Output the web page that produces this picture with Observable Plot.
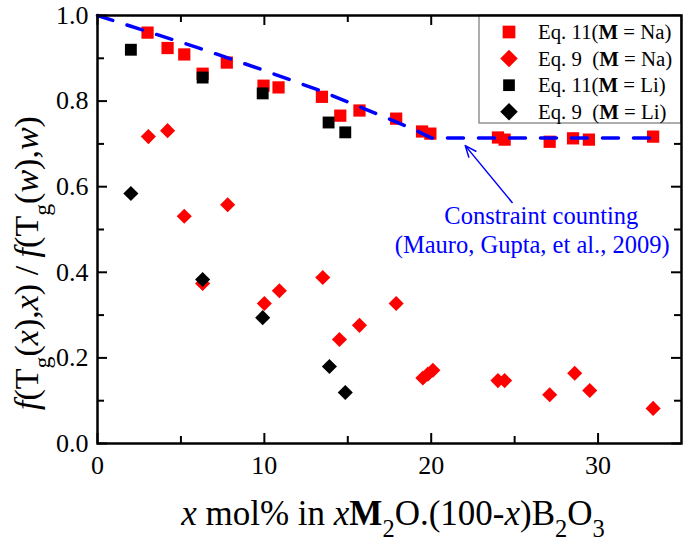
<!DOCTYPE html>
<html>
<head>
<meta charset="utf-8">
<script src="https://cdn.jsdelivr.net/npm/d3@7"></script>
<script src="https://cdn.jsdelivr.net/npm/@observablehq/plot@0.6"></script>
<style>
  html, body { margin: 0; padding: 0; background: white; }
  #chart svg { display: block; }
  #chart svg, #chart svg text { font-family: "Liberation Serif", "Times New Roman", serif; }
</style>
</head>
<body>
<div id="chart"></div>
<script>
// ---- Data ----
// Eq. 11 (M = Na) red squares
const na11X = [3.0, 4.2, 5.2, 6.3, 7.75, 9.95, 10.85, 13.45, 14.55, 15.7, 17.9, 19.45, 19.95, 24.0, 24.4, 27.1, 28.5, 29.45, 33.3];
const na11Y = [0.960, 0.924, 0.909, 0.864, 0.890, 0.836, 0.832, 0.810, 0.766, 0.778, 0.759, 0.729, 0.724, 0.715, 0.710, 0.705, 0.713, 0.710, 0.717];
// Eq. 9 (M = Na) red diamonds
const na9X = [3.05, 4.2, 5.2, 6.3, 7.8, 10.0, 10.9, 13.5, 14.5, 15.7, 17.9, 19.5, 19.8, 20.1, 24.0, 24.4, 27.1, 28.6, 29.5, 33.3];
const na9Y = [0.717, 0.731, 0.531, 0.374, 0.558, 0.327, 0.357, 0.388, 0.243, 0.276, 0.327, 0.153, 0.162, 0.171, 0.147, 0.147, 0.114, 0.164, 0.124, 0.082];
// Eq. 11 (M = Li) black squares
const li11X = [2.0, 6.3, 9.9, 13.85, 14.85];
const li11Y = [0.920, 0.855, 0.818, 0.750, 0.727];
// Eq. 9 (M = Li) black diamonds
const li9X = [2.0, 6.3, 9.9, 13.9, 14.85];
const li9Y = [0.584, 0.383, 0.294, 0.180, 0.119];
// Constraint counting (Mauro, Gupta, et al., 2009), dashed blue
const ccX = [0, 6.0, 9.6, 13.3, 17.0, 18.9, 20.0, 33.6];
const ccY = [1.0, 0.925, 0.877, 0.825, 0.766, 0.735, 0.714, 0.714];
// Annotation arrow (tail -> tip)
const arrowTail = [24.85, 0.563];
const arrowTip = [22.04, 0.696];
const annotLines = ["Constraint counting", "(Mauro, Gupta, et al., 2009)"];
const annotX = [26.6, 26.05];
const annotY = [0.514, 0.446];
// Ticks
const xMajor = [0, 10, 20, 30];
const xMinor = [5, 15, 25];
const yMajor = [0, 0.2, 0.4, 0.6, 0.8, 1.0];
const yMinor = [0.1, 0.3, 0.5, 0.7, 0.9];
const legendLabels = [
  ["Eq. 11(", "M", " = Na)"],
  ["Eq. 9  (", "M", " = Na)"],
  ["Eq. 11(", "M", " = Li)"],
  ["Eq. 9  (", "M", " = Li)"]
];

// ---- Build tables ----
const zip = (xs, ys) => xs.map((x, i) => ({x, y: ys[i]}));
const na11 = zip(na11X, na11Y);
const na9 = zip(na9X, na9Y);
const li11 = zip(li11X, li11Y);
const li9 = zip(li9X, li9Y);
const cc = zip(ccX, ccY);
const annot = annotLines.map((t, i) => ({t, x: annotX[i], y: annotY[i]}));

const W = 686, H = 543;
const mL = 97, mR = 5, mT = 15, mB = 100;
const innerW = W - mL - mR, innerH = H - mT - mB;
const RED = "#ff0000", BLUE = "#0000ff";
const FONT = "Liberation Serif";
const MAJ = 10, MIN = 7;

const plot = Plot.plot({
  width: W, height: H,
  marginLeft: mL, marginRight: mR, marginTop: mT, marginBottom: mB,
  style: {fontFamily: FONT, fontSize: "26px", color: "black", background: "white"},
  x: {domain: [0, 35], axis: null},
  y: {domain: [0, 1], axis: null},
  marks: [
    // tick labels (through the scales)
    Plot.text(xMajor, {x: d => d, y: 0, text: d3.format("d"), lineAnchor: "top", dy: 12,
      fontFamily: FONT, fontSize: 26, fill: "black", textAnchor: "middle"}),
    Plot.text(yMajor, {x: 0, y: d => d, text: d3.format(".1f"), textAnchor: "end", dx: -9,
      fontFamily: FONT, fontSize: 26, fill: "black", lineAnchor: "middle"}),
    // inward ticks: bottom/top
    Plot.tickX(xMajor, {x: d => d, stroke: "black", strokeWidth: 2, insetTop: innerH - MAJ}),
    Plot.tickX(xMinor, {x: d => d, stroke: "black", strokeWidth: 2, insetTop: innerH - MIN}),
    Plot.tickX(xMajor, {x: d => d, stroke: "black", strokeWidth: 2, insetBottom: innerH - MAJ}),
    Plot.tickX(xMinor, {x: d => d, stroke: "black", strokeWidth: 2, insetBottom: innerH - MIN}),
    // inward ticks: left/right
    Plot.tickY(yMajor, {y: d => d, stroke: "black", strokeWidth: 2, insetRight: innerW - MAJ}),
    Plot.tickY(yMinor, {y: d => d, stroke: "black", strokeWidth: 2, insetRight: innerW - MIN}),
    Plot.tickY(yMajor, {y: d => d, stroke: "black", strokeWidth: 2, insetLeft: innerW - MAJ}),
    Plot.tickY(yMinor, {y: d => d, stroke: "black", strokeWidth: 2, insetLeft: innerW - MIN}),
    // data
    Plot.dot(na11, {x: "x", y: "y", symbol: "square", r: 6.9, fill: RED}),
    Plot.dot(na9, {x: "x", y: "y", symbol: "diamond2", r: 6.8, fill: RED}),
    Plot.dot(li11, {x: "x", y: "y", symbol: "square", r: 6.7, fill: "black"}),
    Plot.dot(li9, {x: "x", y: "y", symbol: "diamond2", r: 6.8, fill: "black"}),
    Plot.line(cc, {x: "x", y: "y", stroke: BLUE, strokeWidth: 3.5, strokeDasharray: "16,15"}),
    Plot.arrow([{}], {x1: arrowTail[0], y1: arrowTail[1], x2: arrowTip[0], y2: arrowTip[1],
      stroke: BLUE, strokeWidth: 1.5, headLength: 12, headAngle: 45}),
    Plot.text(annot, {x: "x", y: "y", text: "t", fill: BLUE, fontSize: 24.5, fontFamily: FONT, textAnchor: "middle", lineAnchor: "bottom"}),
    Plot.frame({stroke: "black", strokeWidth: 2.5})
  ]
});

document.getElementById("chart").appendChild(plot);
const svg = d3.select(plot).attr("font-family", FONT);

// ---- Legend ----
const lg = svg.append("g").attr("class", "legend");
lg.append("rect").attr("x", 479).attr("y", 15).attr("width", 202).attr("height", 108)
  .attr("fill", "white").attr("stroke", "#777").attr("stroke-width", 1.2);
const legendSym = [
  {sym: d3.symbolSquare, size: 12.7 * 12.7, fill: RED},
  {sym: d3.symbolDiamond2, size: 14 * 14, fill: RED},
  {sym: d3.symbolSquare, size: 11.7 * 11.7, fill: "black"},
  {sym: d3.symbolDiamond2, size: 14 * 14, fill: "black"}
];
legendLabels.forEach((parts, i) => {
  const cy = 32 + i * 26.6;
  lg.append("path").attr("transform", `translate(509,${cy})`)
    .attr("d", d3.symbol(legendSym[i].sym, legendSym[i].size)()).attr("fill", legendSym[i].fill);
  const t = lg.append("text").attr("x", 538).attr("y", cy + 7).attr("text-anchor", "start")
    .attr("font-family", FONT).attr("font-size", 20.8).attr("fill", "black")
    .style("white-space", "pre");
  t.append("tspan").text(parts[0]);
  t.append("tspan").attr("font-weight", "bold").text(parts[1]);
  t.append("tspan").text(parts[2]);
});
svg.select("[aria-label=frame]").raise();

// ---- Axis titles (rich text) ----
function rich(textSel, parts) {
  parts.forEach(p => {
    const ts = textSel.append("tspan").text(p.t);
    if (p.i) ts.attr("font-style", "italic");
    if (p.b) ts.attr("font-weight", "bold");
    if (p.sub) ts.attr("font-size", "0.7em").attr("dy", "0.5em");
    if (p.up) ts.attr("dy", "-0.35em");
  });
}
const xt = svg.append("text").attr("x", 393).attr("y", 525).attr("text-anchor", "middle")
  .attr("font-family", FONT).attr("font-size", 35).attr("fill", "black").style("white-space", "pre");
rich(xt, [
  {t: "x", i: true}, {t: " mol% in "}, {t: "x", i: true}, {t: "M", b: true},
  {t: "2", sub: true}, {t: "O.(100-", up: true}, {t: "x", i: true}, {t: ")B"},
  {t: "2", sub: true}, {t: "O", up: true}, {t: "3", sub: true}
]);
const yt = svg.append("text").attr("transform", "translate(38,263) rotate(-90)").attr("text-anchor", "middle")
  .attr("font-family", FONT).attr("font-size", 34).attr("fill", "black").style("white-space", "pre");
rich(yt, [
  {t: "f", i: true}, {t: "(T"}, {t: "g", sub: true}, {t: "(", up: true}, {t: "x", i: true}, {t: "),"},
  {t: "x", i: true}, {t: ") / "}, {t: "f", i: true}, {t: "(T"}, {t: "g", sub: true}, {t: "(", up: true},
  {t: "w", i: true}, {t: "),"}, {t: "w", i: true}, {t: ")"}
]);
</script>
</body>
</html>
